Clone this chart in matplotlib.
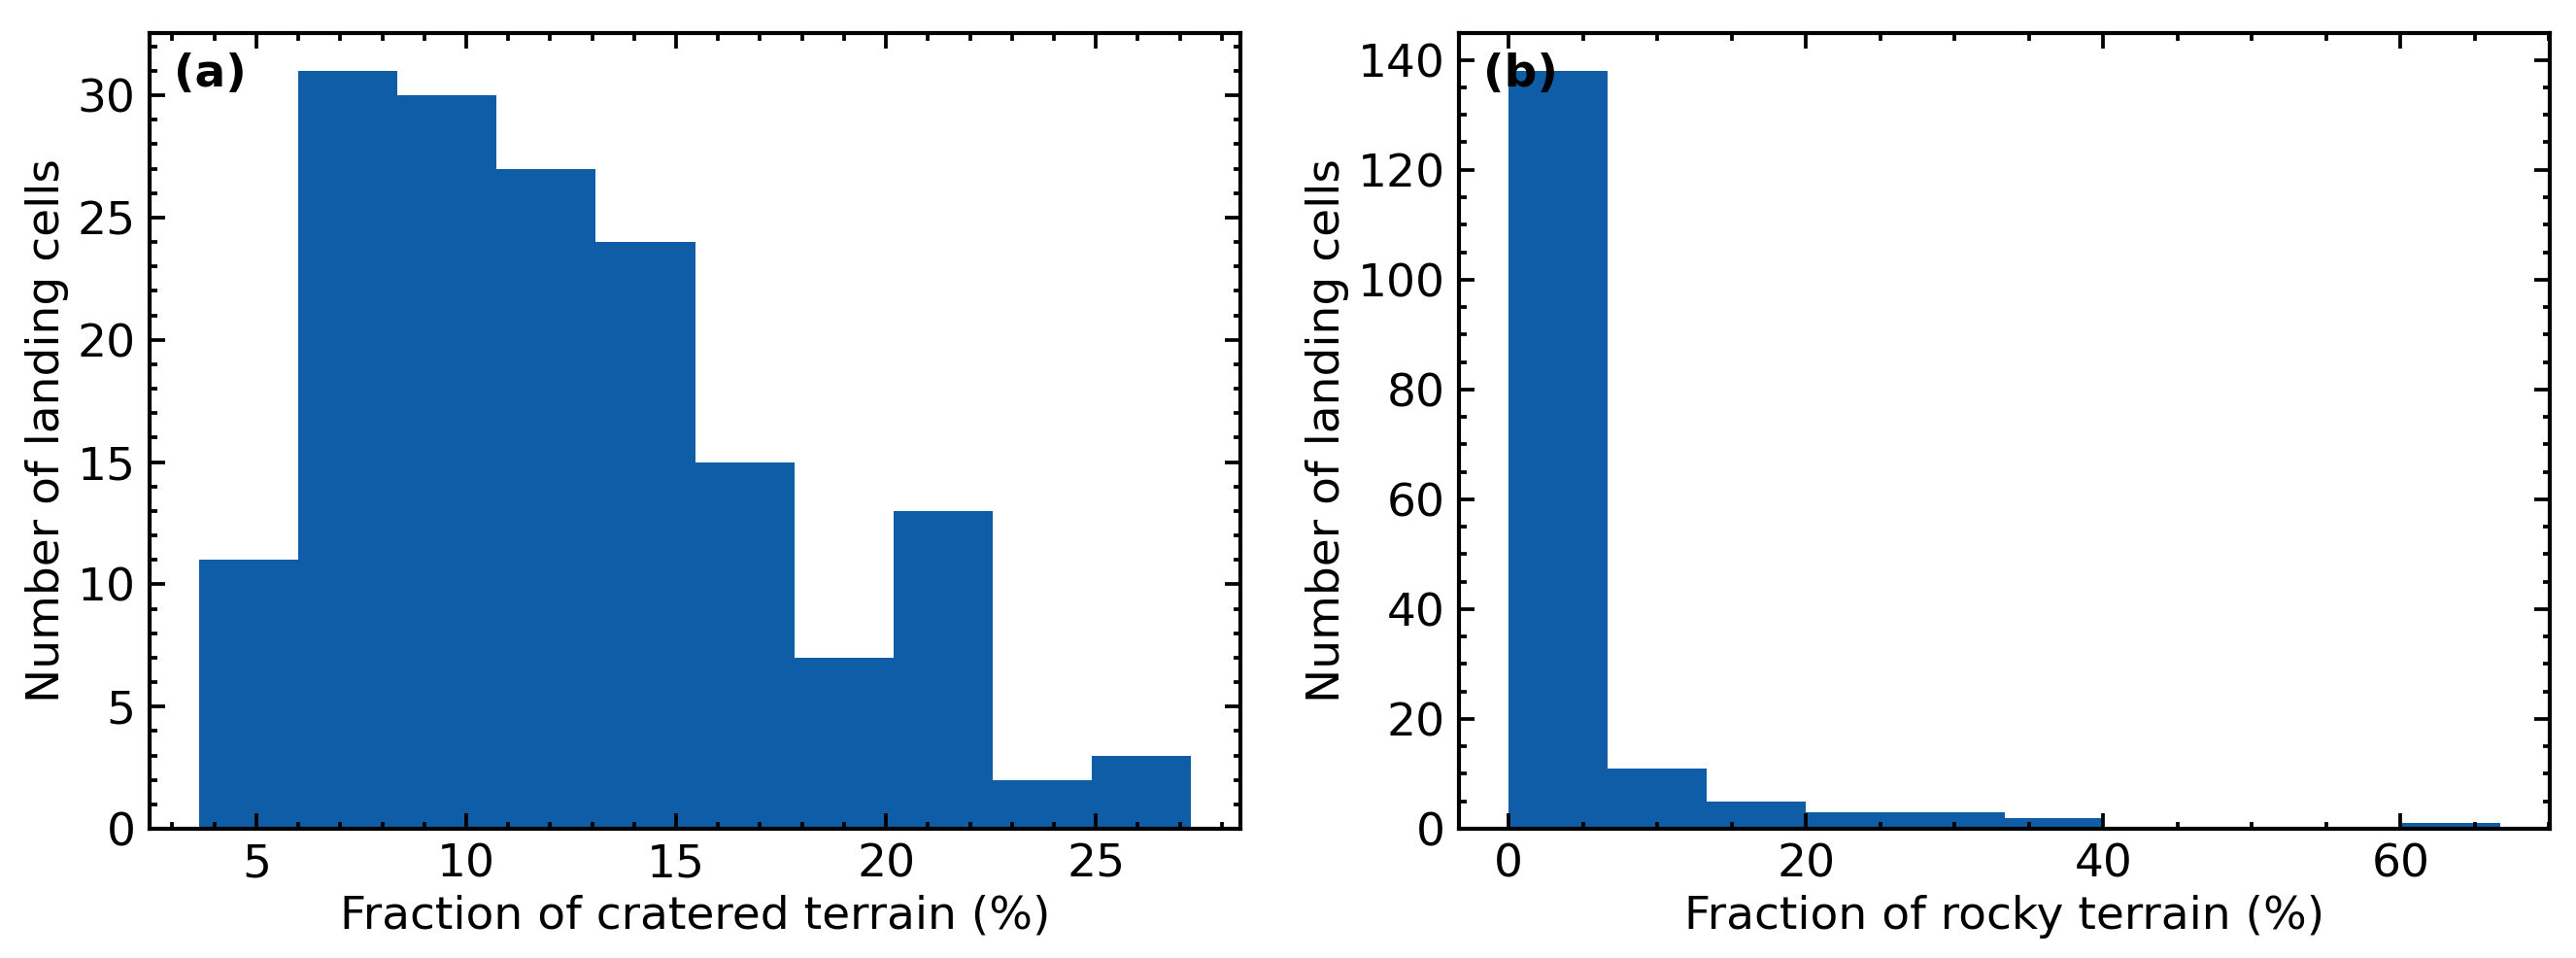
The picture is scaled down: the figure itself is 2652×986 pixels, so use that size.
import numpy as np
import matplotlib
matplotlib.use('Agg')
import matplotlib.pyplot as plt

# histogram data (163 landing cells)
crater_range = (3.64, 27.26)
crater_counts = [11, 31, 30, 27, 24, 15, 7, 13, 2, 3]
rock_range = (0.0, 66.7)
rock_counts = [138, 11, 5, 3, 3, 2, 0, 0, 0, 1]

BAR_COLOR = '#0F5DA6'

plt.rcParams['font.size'] = 11.3
plt.rcParams['axes.linewidth'] = 1.0

fig = plt.figure(figsize=(8.84, 3.2867), dpi=300)
ax1 = fig.add_axes([0.0581, 0.1349, 0.4234, 0.8306])
ax2 = fig.add_axes([0.5664, 0.1349, 0.4234, 0.8306])

panels = [
    (ax1, crater_range, crater_counts, 'Fraction of cratered terrain (%)', '(a)'),
    (ax2, rock_range, rock_counts, 'Fraction of rocky terrain (%)', '(b)'),
]

for ax, rng, counts, xlabel, tag in panels:
    edges = np.linspace(rng[0], rng[1], len(counts) + 1)
    ax.hist(edges[:-1], bins=edges, weights=counts, color=BAR_COLOR)
    ax.set_xlabel(xlabel, labelpad=2)
    ax.set_ylabel('Number of landing cells', labelpad=2)
    ax.minorticks_on()
    ax.tick_params(which='both', direction='in', top=True, right=True)
    ax.tick_params(which='major', length=3.8, width=0.9)
    ax.tick_params(which='minor', length=1.8, width=0.9)
    ax.text(0.022, 0.975, tag, transform=ax.transAxes, ha='left', va='top',
            fontweight='bold')

fig.savefig('out.png', dpi=300)
